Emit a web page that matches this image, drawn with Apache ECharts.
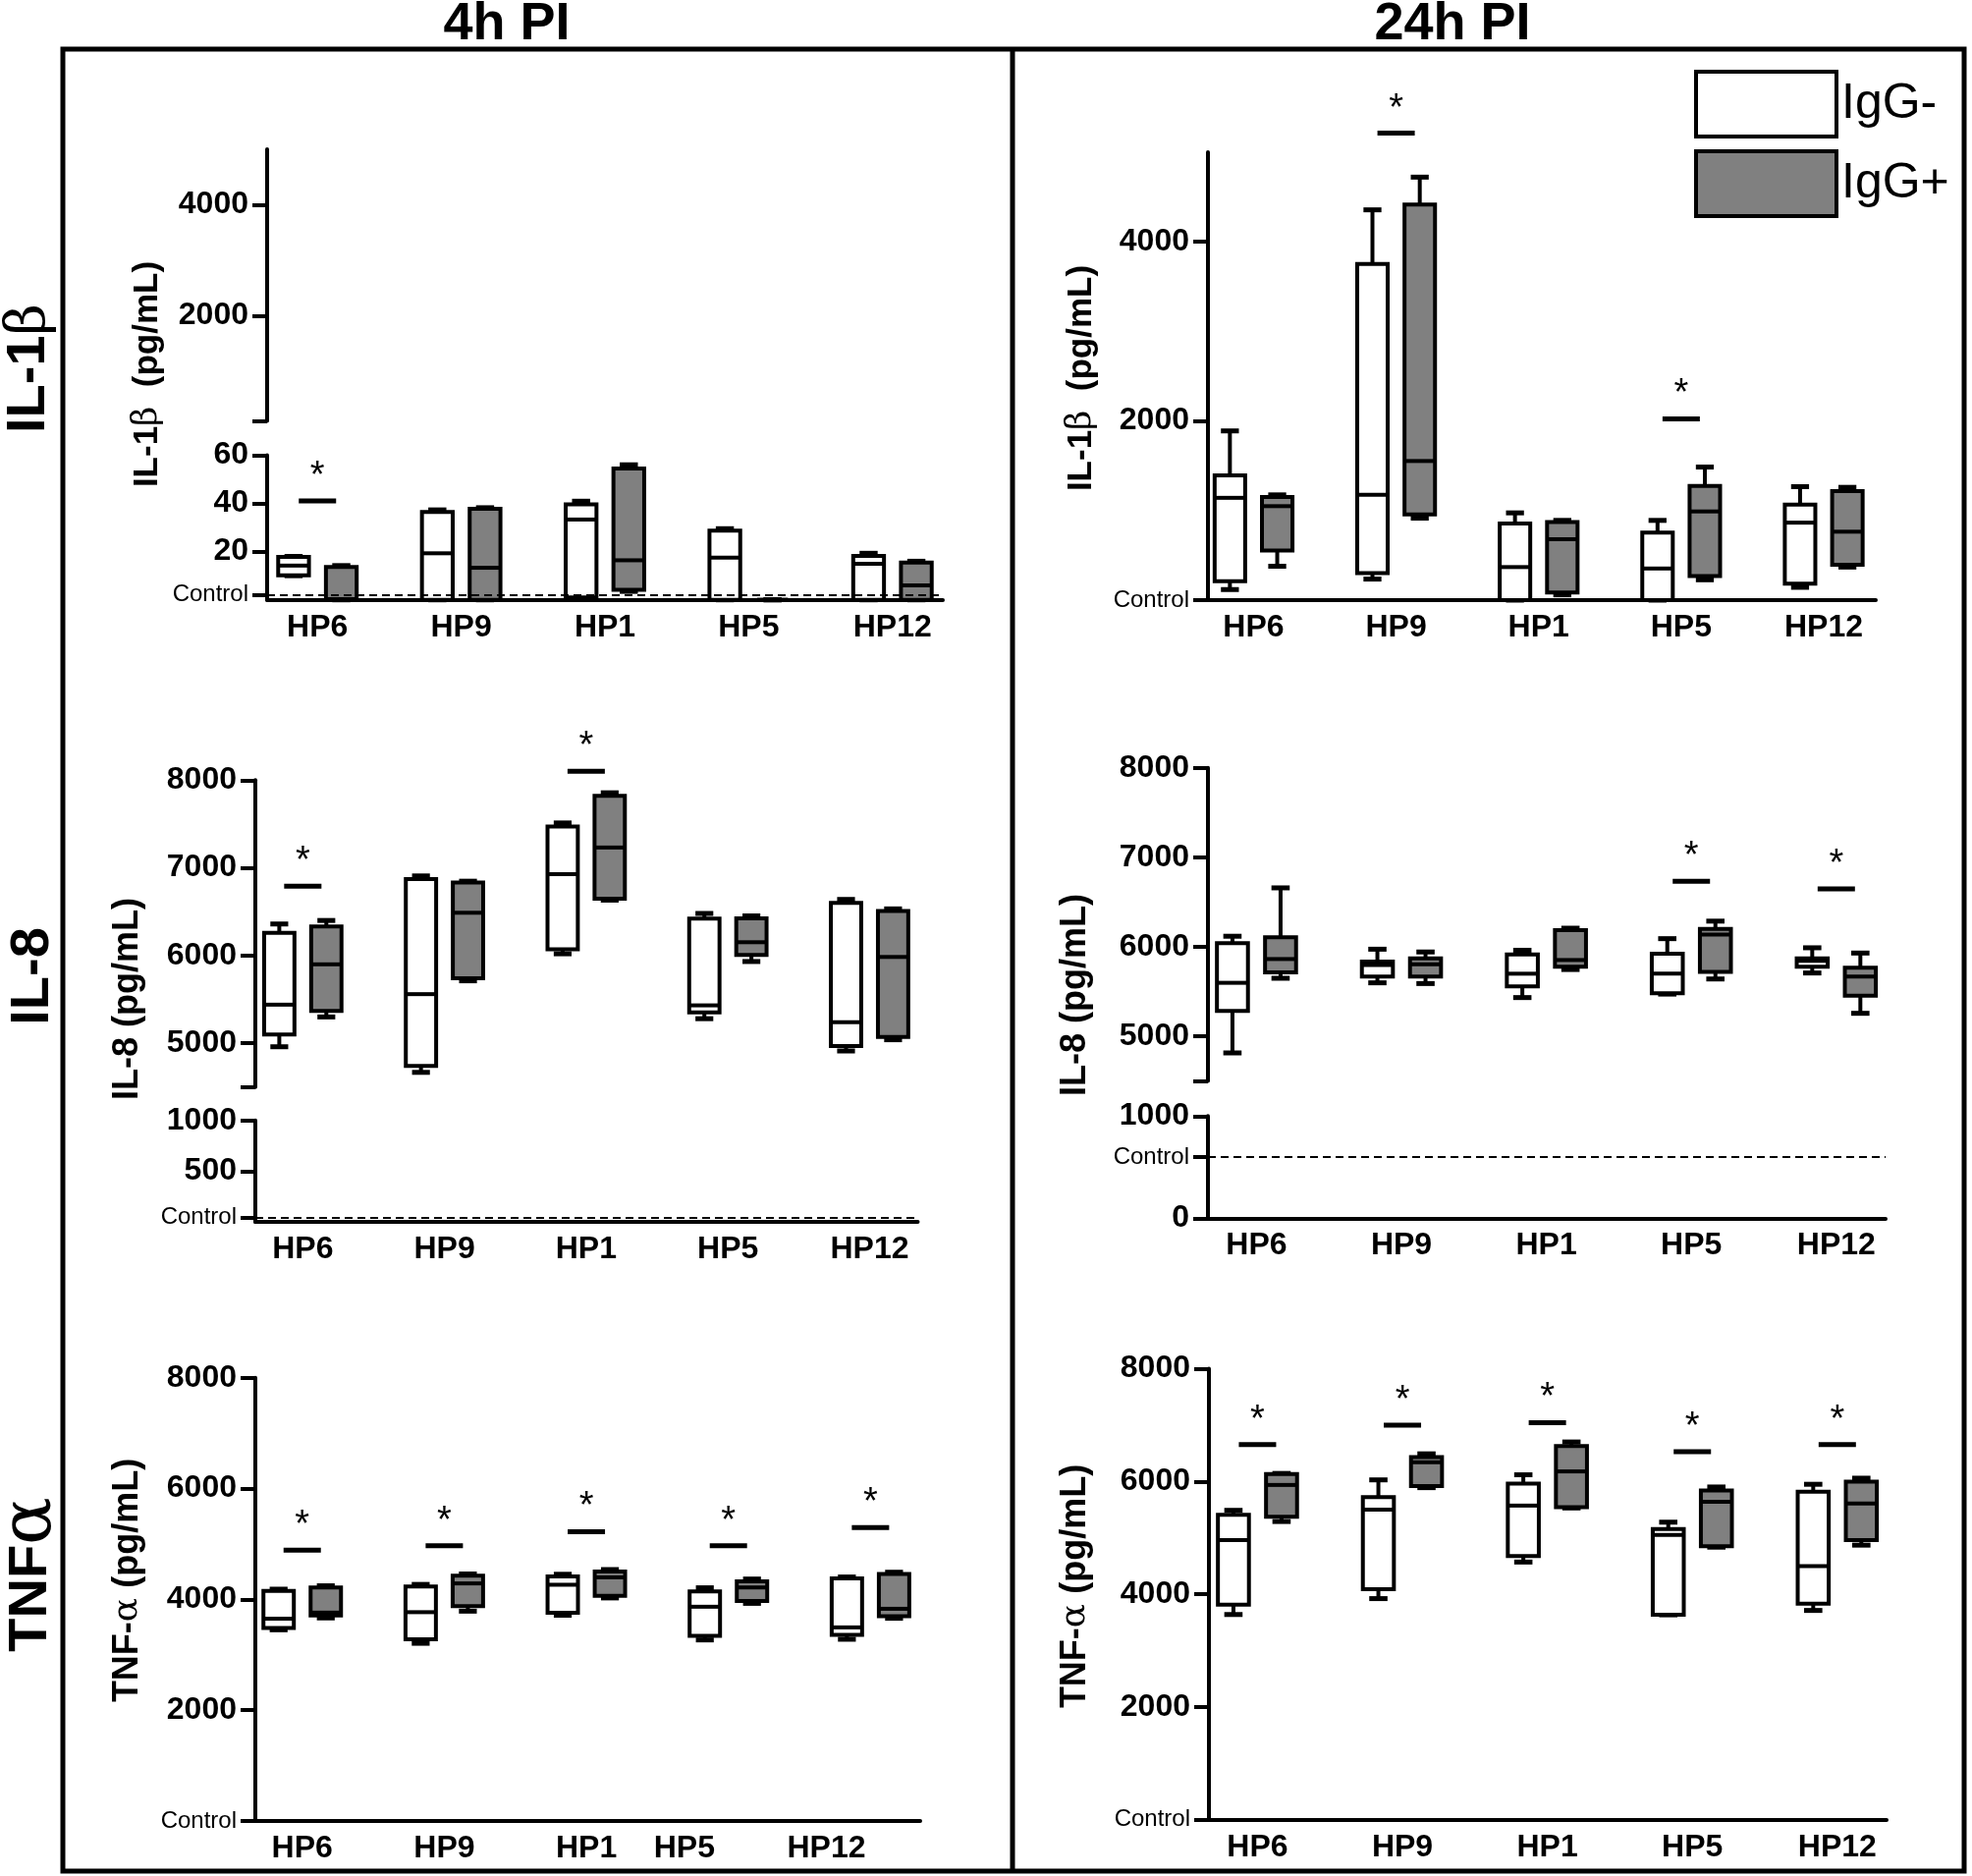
<!DOCTYPE html>
<html lang="en">
<head>
<meta charset="UTF-8">
<title>Cytokines IgG- / IgG+</title>
<script src="https://cdn.jsdelivr.net/npm/echarts@6/dist/echarts.min.js"></script>
<style>
    html, body { margin: 0; padding: 0; background: #fff; }
    #main { width: 2008px; height: 1910px; }
</style>
</head>
<body>
<div id="main"></div>
<script>
var categories = ['HP6', 'HP9', 'HP1', 'HP5', 'HP12'];
var groups = ['IgG-', 'IgG+'];

// each row: [min, q1, median, q3, max] for HP6, HP9, HP1, HP5, HP12
var il1b4hNeg = [[10, 10.2, 14.2, 17.8, 18], [0, 0, 19.3, 36.4, 37.3], [0.5, 1, 33.3, 39.6, 40.9], [0, 0, 17.5, 28.7, 29.5], [0, 0, 15, 18.2, 19.3]];
var il1b4hPos = [[0, 0, 0.3, 13.6, 14.2], [0, 0, 13.3, 37.8, 38.2], [3.5, 4.2, 16.4, 54.5, 56], [0, 0, 0, 0, 0], [0, 0, 6, 15.5, 16]];
var il1b24hNeg = [[118, 210, 1142, 1393, 1889], [235, 302, 1175, 3752, 4357], [0, 0, 369, 856, 974], [0, 0, 353, 755, 890], [143, 185, 865, 1066, 1267]];
var il1b24hPos = [[378, 554, 1049, 1150, 1175], [915, 957, 1553, 4415, 4722], [59, 84, 680, 873, 890], [227, 269, 990, 1276, 1486], [369, 395, 764, 1217, 1259]];
var il84hNeg = [[4960, 5100, 5440, 6260, 6360], [4668, 4740, 5560, 6872, 6908], [6020, 6072, 6928, 7472, 7512], [5280, 5352, 5432, 6420, 6480], [4912, 4968, 5240, 6600, 6640]];
var il84hPos = [[5300, 5368, 5900, 6332, 6400], [5712, 5740, 6488, 6832, 6848], [6632, 6648, 7232, 7820, 7856], [5932, 6008, 6152, 6424, 6452], [5040, 5072, 5984, 6508, 6532]];
var il824hNeg = [[4812, 5282, 5596, 6039, 6117], [5596, 5666, 5796, 5835, 5972], [5431, 5557, 5698, 5913, 5960], [5470, 5478, 5698, 5921, 6090], [5706, 5776, 5843, 5870, 5988]];
var il824hPos = [[5647, 5713, 5862, 6105, 6658], [5588, 5666, 5804, 5870, 5941], [5745, 5776, 5851, 6184, 6207], [5639, 5717, 6137, 6200, 6286], [5255, 5451, 5666, 5764, 5929]];
var tnf4hNeg = [[3450, 3481, 3650, 4153, 4183], [3206, 3279, 3768, 4232, 4269], [3713, 3756, 4263, 4415, 4452], [3267, 3340, 3866, 4141, 4208], [3279, 3359, 3493, 4379, 4403]];
var tnf4hPos = [[3664, 3707, 3760, 4214, 4244], [3786, 3878, 4287, 4428, 4458], [4025, 4061, 4397, 4501, 4537], [3927, 3970, 4214, 4324, 4366], [3658, 3695, 3829, 4458, 4489]];
var tnf24hNeg = [[3640, 3814, 4960, 5409, 5487], [3922, 4090, 5499, 5721, 6027], [4570, 4678, 5571, 5961, 6117], [3634, 3634, 5049, 5157, 5277], [3712, 3832, 4498, 5817, 5949]];
var tnf24hPos = [[5289, 5373, 5937, 6129, 6141], [5889, 5919, 6339, 6429, 6489], [5529, 5541, 6177, 6627, 6699], [4834, 4852, 5637, 5841, 5901], [4870, 4960, 5607, 5997, 6057]];

// significance bars: [category index, height of the bar]
var il1b4hSig = [[0, 41]];
var il1b24hSig = [[1, 5213], [3, 2023]];
var il84hSig = [[0, 6792], [2, 8100]];
var il824hSig = [[3, 6733], [4, 6646]];
var tnf4hSig = [[0, 4886], [1, 4965], [2, 5221], [3, 4965], [4, 5295]];
var tnf24hSig = [[0, 6651], [1, 6999], [2, 7041], [3, 6525], [4, 6651]];

// control levels (dashed line / "Control" tick)
var il1b4hControl = 2;
var il1b24hControl = 0;
var il84hControl = 40;
var il824hControl = 600;
var tnfControl = 0;

// y tick labels
var il1bUpperTicks = [2000, 4000];
var il1b4hLowerTicks = [2, 20, 40, 60];
var il1b24hTicks = [0, 2000, 4000];
var il8UpperTicks = [5000, 6000, 7000, 8000];
var il84hLowerTicks = [40, 500, 1000];
var il824hLowerTicks = [0, 600, 1000];
var tnfTicks = [0, 2000, 4000, 6000, 8000];

var FONT = '"Liberation Sans", Arial, sans-serif';
var BOX_OFFSET = 0.166, BOX_HALF = 0.107, CAP_HALF = 0.063;

var grids = [], xAxes = [], yAxes = [], series = [];

function addPanel(rect, xr, showX, labelPos, yMin, yMax, yLabels, yTicks, ctrl) {
    var idx = grids.length;
    grids.push({left: rect[0], top: rect[1], width: rect[2], height: rect[3], containLabel: false, outerBoundsMode: 'none'});
    xAxes.push({
        type: 'value', gridIndex: idx, min: xr[0], max: xr[1], show: showX,
        axisLine: {show: true, onZero: false, lineStyle: {color: '#000', width: 4}},
        axisTick: {show: false},
        splitLine: {show: false},
        axisLabel: {
            customValues: labelPos, margin: 12, color: '#000', fontFamily: FONT, fontSize: 32, fontWeight: 'bold',
            formatter: function (v) { return categories[labelPos.indexOf(v)] || ''; }
        }
    });
    yAxes.push({
        type: 'value', gridIndex: idx, min: yMin, max: yMax,
        axisLine: {show: true, onZero: false, lineStyle: {color: '#000', width: 4}},
        axisTick: {show: true, length: 15, customValues: yTicks, lineStyle: {color: '#000', width: 4}},
        splitLine: {show: false},
        axisLabel: {
            customValues: yLabels, margin: 19, color: '#000', fontFamily: FONT, fontSize: 32, fontWeight: 'bold',
            formatter: function (v) { return v === ctrl ? '{c|Control}' : String(v); },
            rich: {c: {fontSize: 24, fontWeight: 'normal', fontFamily: FONT, color: '#000'}}
        }
    });
    return idx;
}

function boxRenderer(side, fill) {
    return function (params, api) {
        var xc = api.value(0) + side * BOX_OFFSET;
        var px = function (dx) { return api.coord([xc + dx, 0])[0]; };
        var py = function (i) { return api.coord([xc, api.value(i)])[1]; };
        var x0 = px(-BOX_HALF), x1 = px(BOX_HALF), xm = px(0), c0 = px(-CAP_HALF), c1 = px(CAP_HALF);
        var yMin = py(1), yQ1 = py(2), yMed = py(3), yQ3 = py(4), yMax = py(5);
        var ls = {stroke: '#000', lineWidth: 4};
        var cs = {stroke: '#000', lineWidth: 5};
        return {
            type: 'group',
            children: [
                {type: 'line', shape: {x1: xm, y1: yQ3, x2: xm, y2: yMax}, style: ls},
                {type: 'line', shape: {x1: xm, y1: yQ1, x2: xm, y2: yMin}, style: ls},
                {type: 'line', shape: {x1: c0, y1: yMax, x2: c1, y2: yMax}, style: cs},
                {type: 'line', shape: {x1: c0, y1: yMin, x2: c1, y2: yMin}, style: cs},
                {type: 'rect', shape: {x: x0, y: yQ3, width: x1 - x0, height: yQ1 - yQ3}, style: {fill: fill, stroke: '#000', lineWidth: 4}},
                {type: 'line', shape: {x1: x0, y1: yMed, x2: x1, y2: yMed}, style: ls}
            ]
        };
    };
}

function addBoxes(gi, neg, pos) {
    [[neg, -1, '#ffffff', groups[0]], [pos, 1, '#808080', groups[1]]].forEach(function (s) {
        series.push({
            type: 'custom', name: s[3], xAxisIndex: gi, yAxisIndex: gi, silent: true, z: 3,
            itemStyle: {color: s[2], borderColor: '#000', borderWidth: 4},
            renderItem: boxRenderer(s[1], s[2]),
            encode: {x: 0, y: [1, 2, 3, 4, 5]},
            data: s[0].map(function (d, i) { return [i].concat(d); })
        });
    });
}

function addSig(gi, sig) {
    series.push({
        type: 'scatter', xAxisIndex: gi, yAxisIndex: gi, clip: false, silent: true, z: 4,
        symbol: 'rect', symbolSize: [38, 5], itemStyle: {color: '#000', opacity: 1},
        label: {show: true, position: 'top', distance: 3, formatter: '*', fontSize: 38, fontFamily: FONT, color: '#000', opacity: 1},
        data: sig
    });
}

function addControl(gi, ctrl) {
    series.push({
        type: 'line', xAxisIndex: gi, yAxisIndex: gi, data: [], silent: true,
        markLine: {
            silent: true, symbol: ['none', 'none'], label: {show: false},
            lineStyle: {type: [8, 5], color: '#000', width: 2, opacity: 1},
            data: [{yAxis: ctrl}]
        }
    });
}

var catPos = [0, 1, 2, 3, 4];
var tnf4hLabelPos = [0, 1, 2, 2.69, 3.69];
var xr = [-0.335, 4.34];

// 4h IL-1β (broken axis)
var gA1 = addPanel([272, 152, 688, 276.6], [-0.35, 4.35], false, catPos, 100, 5000, il1bUpperTicks, [100].concat(il1bUpperTicks), null);
var gA2 = addPanel([272, 463.4, 688, 147.3], [-0.35, 4.35], true, catPos, 0, 60, il1b4hLowerTicks, il1b4hLowerTicks, il1b4hControl);
addControl(gA2, il1b4hControl);
addBoxes(gA2, il1b4hNeg, il1b4hPos);
addSig(gA2, il1b4hSig);

// 24h IL-1β
var gB = addPanel([1230, 155, 680, 456], [-0.32, 4.365], true, catPos, 0, 5000, il1b24hTicks, il1b24hTicks, il1b24hControl);
addBoxes(gB, il1b24hNeg, il1b24hPos);
addSig(gB, il1b24hSig);

// 4h IL-8 (broken axis)
var gC1 = addPanel([260, 794.3, 674.5, 312.5], xr, false, catPos, 4500, 8000, il8UpperTicks, [4500].concat(il8UpperTicks), null);
var gC2 = addPanel([260, 1140.7, 674.5, 103.3], xr, true, catPos, 0, 1000, il84hLowerTicks, il84hLowerTicks, il84hControl);
addControl(gC2, il84hControl);
addBoxes(gC1, il84hNeg, il84hPos);
addSig(gC1, il84hSig);

// 24h IL-8 (broken axis)
var gD1 = addPanel([1230, 781.8, 690, 318.6], xr, false, catPos, 4500, 8000, il8UpperTicks, [4500].concat(il8UpperTicks), null);
var gD2 = addPanel([1230, 1136.3, 690, 104.2], xr, true, catPos, 0, 1000, il824hLowerTicks, il824hLowerTicks, il824hControl);
addControl(gD2, il824hControl);
addBoxes(gD1, il824hNeg, il824hPos);
addSig(gD1, il824hSig);

// 4h TNF-α
var gE = addPanel([260, 1402.7, 677, 451.2], [-0.33, 4.35], true, tnf4hLabelPos, 0, 8000, tnfTicks, tnfTicks, tnfControl);
addBoxes(gE, tnf4hNeg, tnf4hPos);
addSig(gE, tnf4hSig);

// 24h TNF-α
var gF = addPanel([1231, 1393.4, 690, 459.4], xr, true, catPos, 0, 8000, tnfTicks, tnfTicks, tnfControl);
addBoxes(gF, tnf24hNeg, tnf24hPos);
addSig(gF, tnf24hSig);

function vText(x, y, parts, size, gSize) {
    return {
        type: 'text', x: x, y: y, rotation: Math.PI / 2, silent: true,
        style: {
            text: parts, fill: '#000', align: 'center', verticalAlign: 'middle',
            textAlign: 'center', textVerticalAlign: 'middle',
            rich: {
                b: {fontFamily: FONT, fontWeight: 'bold', fontSize: size, fill: '#000'},
                g: {fontFamily: '"DejaVu Serif", serif', fontWeight: 'normal', fontSize: gSize || size, fill: '#000'}
            }
        }
    };
}

function hText(x, y, text) {
    return {
        type: 'text', x: x, y: y, silent: true,
        style: {
            text: text, fill: '#000', font: 'bold 54px ' + FONT,
            align: 'center', verticalAlign: 'middle', textAlign: 'center', textVerticalAlign: 'middle'
        }
    };
}

var option = {
    backgroundColor: '#fff',
    animation: false,
    grid: grids,
    xAxis: xAxes,
    yAxis: yAxes,
    series: series,
    legend: {
        orient: 'vertical', left: 1725, top: 71, padding: 0, itemWidth: 143, itemHeight: 66, itemGap: 11,
        selectedMode: false, icon: 'rect',
        textStyle: {fontSize: 50, fontFamily: FONT, color: '#000'},
        data: [
            {name: 'IgG-', itemStyle: {color: '#ffffff', borderColor: '#000', borderWidth: 4}},
            {name: 'IgG+', itemStyle: {color: '#808080', borderColor: '#000', borderWidth: 4}}
        ]
    },
    graphic: [
        {type: 'rect', silent: true, shape: {x: 64, y: 50, width: 1936, height: 1855}, style: {fill: 'none', stroke: '#000', lineWidth: 5}},
        {type: 'line', silent: true, shape: {x1: 1031, y1: 50, x2: 1031, y2: 1905}, style: {stroke: '#000', lineWidth: 5}},
        hText(516, 25, '4h PI'),
        hText(1479, 25, '24h PI'),
        vText(30, 375, '{b|IL-1}{g|β}', 56),
        vText(34, 994, '{b|IL-8}', 56),
        vText(32, 1603, '{b|TNF}{g|α}', 56, 72),
        vText(150, 381, '{b|IL-1}{g|β}{b|  (pg/mL)}', 35),
        vText(1101, 385, '{b|IL-1}{g|β}{b|  (pg/mL)}', 35),
        vText(130, 1017, '{b|IL-8 (pg/mL)}', 36),
        vText(1095, 1013, '{b|IL-8 (pg/mL)}', 36),
        vText(130, 1609, '{b|TNF-}{g|α}{b| (pg/mL)}', 36),
        vText(1095, 1615, '{b|TNF-}{g|α}{b| (pg/mL)}', 36)
    ]
};

var myChart = echarts.init(document.getElementById('main'));
myChart.setOption(option);
</script>
</body>
</html>
